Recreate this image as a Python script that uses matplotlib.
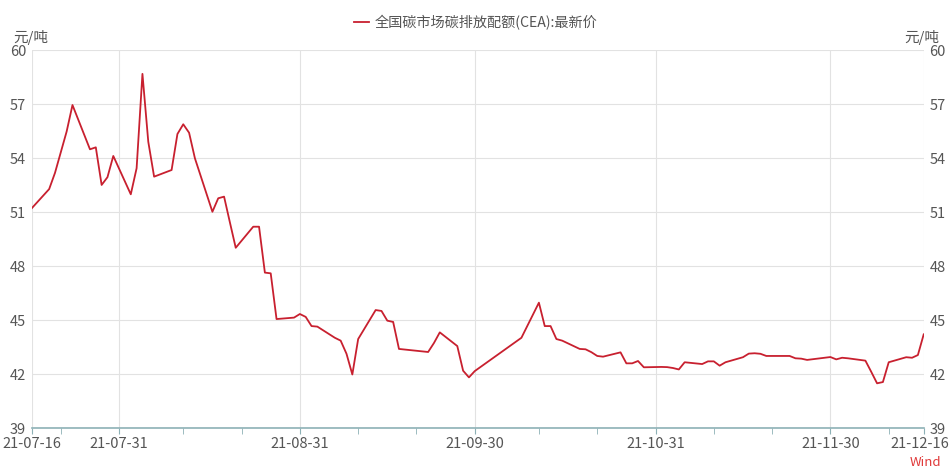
import numpy as np
import pandas as pd
import matplotlib
matplotlib.use("Agg")
import matplotlib.pyplot as plt
import matplotlib.dates as mdates
import matplotlib.transforms as mtransforms

plt.rcParams['font.family'] = ['Noto Sans CJK SC', 'DejaVu Sans']

# CEA daily close, yuan per tonne
dates = [
    "2021-07-16", "2021-07-19", "2021-07-20", "2021-07-21", "2021-07-22", "2021-07-23",
    "2021-07-26", "2021-07-27", "2021-07-28", "2021-07-29", "2021-07-30",
    "2021-08-02", "2021-08-03", "2021-08-04", "2021-08-05", "2021-08-06",
    "2021-08-09", "2021-08-10", "2021-08-11", "2021-08-12", "2021-08-13",
    "2021-08-16", "2021-08-17", "2021-08-18", "2021-08-19", "2021-08-20",
    "2021-08-23", "2021-08-24", "2021-08-25", "2021-08-26", "2021-08-27",
    "2021-08-30", "2021-08-31", "2021-09-01", "2021-09-02", "2021-09-03",
    "2021-09-06", "2021-09-07", "2021-09-08", "2021-09-09", "2021-09-10",
    "2021-09-13", "2021-09-14", "2021-09-15", "2021-09-16", "2021-09-17",
    "2021-09-22", "2021-09-23", "2021-09-24",
    "2021-09-27", "2021-09-28", "2021-09-29", "2021-09-30",
    "2021-10-08",
    "2021-10-11", "2021-10-12", "2021-10-13", "2021-10-14", "2021-10-15",
    "2021-10-18", "2021-10-19", "2021-10-20", "2021-10-21", "2021-10-22",
    "2021-10-25", "2021-10-26", "2021-10-27", "2021-10-28", "2021-10-29",
    "2021-11-01", "2021-11-02", "2021-11-03", "2021-11-04", "2021-11-05",
    "2021-11-08", "2021-11-09", "2021-11-10", "2021-11-11", "2021-11-12",
    "2021-11-15", "2021-11-16", "2021-11-17", "2021-11-18", "2021-11-19",
    "2021-11-22", "2021-11-23", "2021-11-24", "2021-11-25", "2021-11-26",
    "2021-11-29", "2021-11-30", "2021-12-01", "2021-12-02", "2021-12-03",
    "2021-12-06", "2021-12-07", "2021-12-08", "2021-12-09", "2021-12-10",
    "2021-12-13", "2021-12-14", "2021-12-15", "2021-12-16",
]
prices = [
    51.23, 52.30, 53.20, 54.35, 55.50, 56.97,
    54.51, 54.62, 52.53, 52.96, 54.14,
    52.01, 53.46, 58.70, 54.93, 52.99,
    53.36, 55.36, 55.90, 55.43, 54.01,
    51.04, 51.79, 51.88, 50.45, 49.04,
    50.21, 50.21, 47.66, 47.62, 45.08,
    45.16, 45.36, 45.20, 44.69, 44.66,
    44.04, 43.88, 43.15, 42.00, 43.97,
    45.58, 45.53, 44.99, 44.92, 43.42,
    43.25, 43.75, 44.34,
    43.58, 42.21, 41.84, 42.19,
    44.04,
    45.99, 44.69, 44.69, 43.97, 43.88,
    43.42, 43.40, 43.24, 43.03, 42.99,
    43.23, 42.62, 42.62, 42.75, 42.40,
    42.42, 42.41, 42.36, 42.28, 42.68,
    42.58, 42.73, 42.73, 42.49, 42.68,
    42.96, 43.16, 43.18, 43.15, 43.03,
    43.03, 43.03, 42.90, 42.88, 42.81,
    42.93, 42.97, 42.84, 42.93, 42.90,
    42.77, 42.15, 41.51, 41.58, 42.68,
    42.96, 42.93, 43.08, 44.23,
]

major_dates = ["2021-07-16", "2021-07-31", "2021-08-31", "2021-09-30",
               "2021-10-31", "2021-11-30", "2021-12-16"]
minor_dates = ["2021-07-21", "2021-08-11", "2021-08-21", "2021-09-10", "2021-09-20",
               "2021-10-11", "2021-10-21", "2021-11-10", "2021-11-20", "2021-12-10"]
y_ticks = [39, 42, 45, 48, 51, 54, 57, 60]
series_name = "全国碳市场碳排放配额(CEA):最新价"

x = pd.to_datetime(dates)
xmaj = pd.to_datetime(major_dates)
xmin = pd.to_datetime(minor_dates)

line_color = "#c8202f"
text_color = "#555555"
grid_color = "#e2e2e2"
axis_color = "#8db1b6"

fig = plt.figure(figsize=(9.51, 4.70), dpi=100)
ax = fig.add_axes([0.0333, 0.0883, 0.9380, 0.8043])

ax.plot(x, prices, color=line_color, lw=1.3, label=series_name)

ax.set_xlim(xmaj[0], xmaj[-1])
ax.set_ylim(39, 60)
ax.set_yticks(y_ticks)
ax.set_xticks(xmaj)
ax.set_xticks(xmin, minor=True)
ax.xaxis.set_major_formatter(mdates.DateFormatter("%y-%m-%d"))

ax.grid(True, which="major", color=grid_color, lw=0.8)
ax.set_axisbelow(True)

for side in ["top", "left", "right"]:
    ax.spines[side].set_visible(False)
ax.spines["bottom"].set_color(axis_color)
ax.spines["bottom"].set_linewidth(1.2)

ax.tick_params(axis="y", which="both", length=0, labelsize=10.5,
               labelcolor=text_color, labelleft=True, labelright=True, pad=4)
ax.tick_params(axis="x", which="both", length=4, color=axis_color,
               labelsize=10.5, labelcolor=text_color, pad=2)

# keep the last date label inside the canvas
last = ax.get_xticklabels()[-1]
last.set_transform(last.get_transform() +
                   mtransforms.ScaledTranslation(-4 / 100, 0, fig.dpi_scale_trans))

# unit labels above both value axes
fig.text(0.014, 0.905, "元/吨", fontsize=10.5, color=text_color, ha="left", va="bottom")
fig.text(0.988, 0.905, "元/吨", fontsize=10.5, color=text_color, ha="right", va="bottom")

fig.legend(loc="upper center", bbox_to_anchor=(0.5, 0.995), frameon=False,
           handlelength=1.1, handletextpad=0.4, fontsize=10.2, labelcolor=text_color)

fig.text(0.99, 0.003, "Wind", fontsize=9.5, color="#e03a3a", ha="right", va="bottom")

fig.savefig("out.png", dpi=100)
